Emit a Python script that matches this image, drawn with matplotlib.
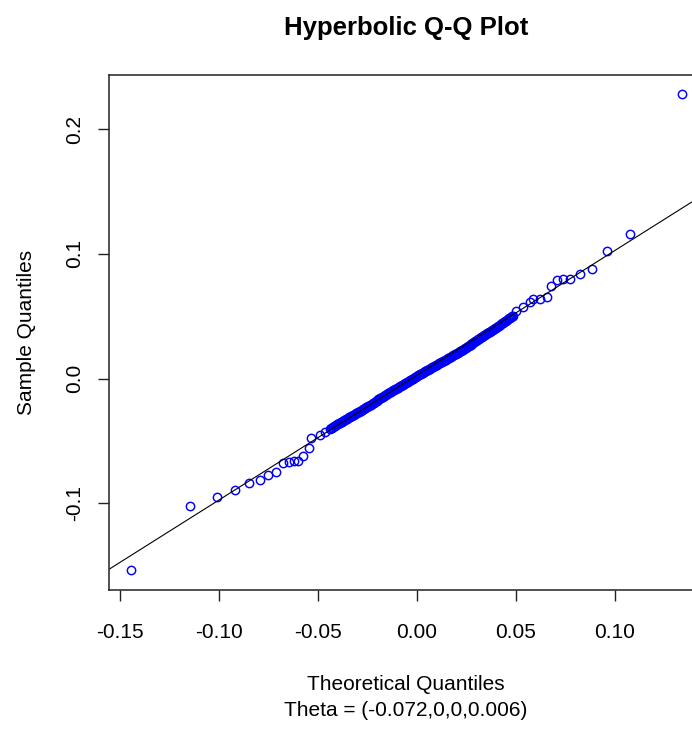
import matplotlib
matplotlib.use("Agg")
import matplotlib.pyplot as plt
import numpy as np

plt.rcParams['font.family'] = ['Liberation Sans', 'DejaVu Sans']

# theoretical quantiles (x) and sample quantiles (y)
lower_theo = [-0.1444, -0.1149, -0.1011, -0.0919, -0.0849, -0.0794, -0.0752, -0.0711,
              -0.0677, -0.0646, -0.0620, -0.0600, -0.0575, -0.0548, -0.0534, -0.0490, -0.0465]
lower_samp = [-0.1538, -0.1022, -0.0948, -0.0892, -0.0838, -0.0814, -0.0771, -0.0750,
              -0.0675, -0.0672, -0.0662, -0.0658, -0.0619, -0.0557, -0.0477, -0.0451, -0.0427]

# dense middle part
mid_theo = [-0.0440, -0.0435, -0.0430, -0.0425, -0.0420, -0.0415, -0.0410, -0.0405, -0.0400, -0.0395,
            -0.0390, -0.0385, -0.0380, -0.0375, -0.0370, -0.0365, -0.0360, -0.0355, -0.0350, -0.0345,
            -0.0340, -0.0335, -0.0330, -0.0325, -0.0320, -0.0315, -0.0310, -0.0305, -0.0300, -0.0295,
            -0.0290, -0.0285, -0.0280, -0.0275, -0.0270, -0.0265, -0.0260, -0.0255, -0.0250, -0.0245,
            -0.0240, -0.0235, -0.0230, -0.0225, -0.0220, -0.0215, -0.0210, -0.0205, -0.0200, -0.0195,
            -0.0190, -0.0185, -0.0180, -0.0175, -0.0170, -0.0165, -0.0160, -0.0155, -0.0150, -0.0145,
            -0.0140, -0.0135, -0.0130, -0.0125, -0.0120, -0.0115, -0.0110, -0.0105, -0.0100, -0.0095,
            -0.0090, -0.0085, -0.0080, -0.0075, -0.0070, -0.0065, -0.0060, -0.0055, -0.0050, -0.0045,
            -0.0040, -0.0035, -0.0030, -0.0025, -0.0020, -0.0015, -0.0010, -0.0005, 0.0000, 0.0005,
            0.0010, 0.0015, 0.0020, 0.0025, 0.0030, 0.0035, 0.0040, 0.0045, 0.0050, 0.0055,
            0.0060, 0.0065, 0.0070, 0.0075, 0.0080, 0.0085, 0.0090, 0.0095, 0.0100, 0.0105,
            0.0110, 0.0115, 0.0120, 0.0125, 0.0130, 0.0135, 0.0140, 0.0145, 0.0150, 0.0155,
            0.0160, 0.0165, 0.0170, 0.0175, 0.0180, 0.0185, 0.0190, 0.0195, 0.0200, 0.0205,
            0.0210, 0.0215, 0.0220, 0.0225, 0.0230, 0.0235, 0.0240, 0.0245, 0.0250, 0.0255,
            0.0260, 0.0265, 0.0270, 0.0275, 0.0280, 0.0285, 0.0290, 0.0295, 0.0300, 0.0305,
            0.0310, 0.0315, 0.0320, 0.0325, 0.0330, 0.0335, 0.0340, 0.0345, 0.0350, 0.0355,
            0.0360, 0.0365, 0.0370, 0.0375, 0.0380, 0.0385, 0.0390, 0.0395, 0.0400, 0.0405,
            0.0410, 0.0415, 0.0420, 0.0425, 0.0430, 0.0435, 0.0440, 0.0445, 0.0450, 0.0455,
            0.0460, 0.0465, 0.0470, 0.0475, 0.0480, 0.0485]
mid_samp = [-0.0403, -0.0398, -0.0393, -0.0389, -0.0384, -0.0378, -0.0373, -0.0368, -0.0364, -0.0359,
            -0.0355, -0.0350, -0.0345, -0.0340, -0.0336, -0.0331, -0.0326, -0.0321, -0.0317, -0.0312,
            -0.0308, -0.0303, -0.0298, -0.0294, -0.0289, -0.0284, -0.0280, -0.0275, -0.0271, -0.0267,
            -0.0262, -0.0257, -0.0253, -0.0248, -0.0243, -0.0238, -0.0232, -0.0227, -0.0222, -0.0218,
            -0.0213, -0.0209, -0.0204, -0.0199, -0.0194, -0.0188, -0.0183, -0.0178, -0.0173, -0.0168,
            -0.0164, -0.0159, -0.0154, -0.0149, -0.0145, -0.0140, -0.0135, -0.0130, -0.0124, -0.0119,
            -0.0114, -0.0110, -0.0105, -0.0100, -0.0096, -0.0091, -0.0087, -0.0082, -0.0078, -0.0073,
            -0.0068, -0.0064, -0.0059, -0.0054, -0.0049, -0.0044, -0.0039, -0.0034, -0.0029, -0.0024,
            -0.0019, -0.0014, -0.0009, -0.0004, 0.0000, 0.0005, 0.0010, 0.0015, 0.0020, 0.0025,
            0.0029, 0.0034, 0.0039, 0.0044, 0.0048, 0.0053, 0.0058, 0.0062, 0.0067, 0.0071,
            0.0076, 0.0080, 0.0085, 0.0089, 0.0094, 0.0098, 0.0103, 0.0107, 0.0112, 0.0116,
            0.0121, 0.0125, 0.0130, 0.0134, 0.0139, 0.0143, 0.0148, 0.0152, 0.0157, 0.0161,
            0.0166, 0.0171, 0.0175, 0.0180, 0.0185, 0.0190, 0.0194, 0.0199, 0.0204, 0.0208,
            0.0213, 0.0218, 0.0223, 0.0227, 0.0232, 0.0237, 0.0242, 0.0247, 0.0252, 0.0257,
            0.0262, 0.0267, 0.0272, 0.0277, 0.0282, 0.0288, 0.0293, 0.0298, 0.0303, 0.0308,
            0.0314, 0.0319, 0.0324, 0.0329, 0.0335, 0.0340, 0.0345, 0.0350, 0.0356, 0.0361,
            0.0366, 0.0372, 0.0377, 0.0382, 0.0388, 0.0393, 0.0398, 0.0404, 0.0409, 0.0414,
            0.0420, 0.0425, 0.0431, 0.0437, 0.0442, 0.0448, 0.0454, 0.0459, 0.0465, 0.0471,
            0.0476, 0.0482, 0.0488, 0.0493, 0.0499, 0.0505]

upper_theo = [0.0501, 0.0534, 0.0571, 0.0588, 0.0622, 0.0656, 0.0677, 0.0706,
              0.0737, 0.0775, 0.0823, 0.0886, 0.0961, 0.1078, 0.1341]
upper_samp = [0.0541, 0.0576, 0.0616, 0.0635, 0.0637, 0.0651, 0.0742, 0.0790,
              0.0796, 0.0800, 0.0836, 0.0876, 0.1020, 0.1161, 0.2281]

# reference line (qqline)
line_intercept = 0.0027
line_slope = 1.0

x_ticks = [-0.15, -0.10, -0.05, 0.00, 0.05, 0.10]
y_ticks = [-0.1, 0.0, 0.1, 0.2]

theo = np.array(lower_theo + mid_theo + upper_theo)
samp = np.array(lower_samp + mid_samp + upper_samp)

W, H = 692, 730
fig = plt.figure(figsize=(W / 100, H / 100), dpi=100)
# axes box runs past the right edge of the image, as in the original
ax = fig.add_axes([109 / W, (H - 590) / H, (703 - 109) / W, (590 - 75) / H])

ax.plot(theo, samp, 'o', mfc='none', mec='blue', ms=6.0, mew=1.05)
ax.axline((0, line_intercept), slope=line_slope, color='black', lw=0.8)

ax.set_xlim(-0.1557, 0.1445)
ax.set_ylim(-0.1696, 0.2434)
ax.set_xticks(x_ticks)
ax.set_xticklabels([f"{t:.2f}" for t in x_ticks])
ax.set_yticks(y_ticks)
ax.set_yticklabels([f"{t:.1f}" for t in y_ticks])

for s in ax.spines.values():
    s.set_linewidth(1.1)
    s.set_color('#222222')

ax.tick_params(axis='x', length=8, width=1, labelsize=15, pad=16, color='#222222')
ax.tick_params(axis='y', length=8, width=1, labelsize=15, pad=10, color='#222222',
               labelrotation=90)
for lab in ax.get_yticklabels():
    lab.set_va('center')

ax.set_title("Hyperbolic Q-Q Plot", fontsize=18.5, fontweight='bold', pad=29)
ax.set_xlabel("Theoretical Quantiles\nTheta = (-0.072,0,0,0.006)", fontsize=15,
              linespacing=1.5)
ax.xaxis.set_label_coords(0.5, -0.165)
ax.set_ylabel("Sample Quantiles", fontsize=15)
ax.yaxis.set_label_coords(-0.123, 0.5)

fig.savefig("out.png", dpi=100)
